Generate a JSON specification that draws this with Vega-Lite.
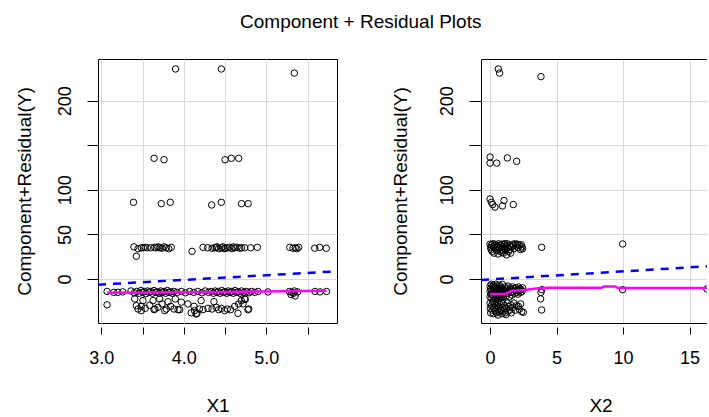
{
  "$schema": "https://vega.github.io/schema/vega-lite/v6.json",
  "background": "white",
  "padding": {"left": 14, "top": 12, "right": 0, "bottom": 0},
  "title": {"text": "Component + Residual Plots", "fontSize": 19, "fontWeight": "normal", "font": "Liberation Sans", "color": "black", "offset": 27, "anchor": "middle"},
  "spacing": 144,
  "bounds": "flush",
  "datasets": {
    "p1": [
      {"x": 3.90, "y": 235.6}, {"x": 4.455, "y": 235.6}, {"x": 5.34, "y": 231},
      {"x": 3.64, "y": 135.4}, {"x": 3.76, "y": 133.8}, {"x": 4.50, "y": 133.8}, {"x": 4.576, "y": 135.4}, {"x": 4.665, "y": 135.4},
      {"x": 3.39, "y": 86}, {"x": 3.727, "y": 84.5}, {"x": 3.836, "y": 86}, {"x": 4.338, "y": 83}, {"x": 4.455, "y": 86}, {"x": 4.70, "y": 84.5}, {"x": 4.78, "y": 84.5},
      {"x": 3.396, "y": 36}, {"x": 3.445, "y": 34}, {"x": 3.485, "y": 35}, {"x": 3.533, "y": 35.5}, {"x": 3.558, "y": 35}, {"x": 3.647, "y": 35.5}, {"x": 3.667, "y": 35}, {"x": 3.687, "y": 36}, {"x": 3.708, "y": 35}, {"x": 3.736, "y": 34.5}, {"x": 3.788, "y": 35}, {"x": 3.817, "y": 34}, {"x": 3.848, "y": 35.5}, {"x": 3.425, "y": 25.5}, {"x": 4.10, "y": 31}, {"x": 4.233, "y": 35.5}, {"x": 4.342, "y": 34.5}, {"x": 4.375, "y": 35}, {"x": 4.394, "y": 35.5}, {"x": 4.423, "y": 34}, {"x": 4.455, "y": 35}, {"x": 4.475, "y": 36}, {"x": 4.503, "y": 34.5}, {"x": 4.527, "y": 35}, {"x": 4.556, "y": 35.5}, {"x": 4.584, "y": 34}, {"x": 4.617, "y": 35}, {"x": 4.645, "y": 35.5}, {"x": 4.678, "y": 34.5}, {"x": 4.738, "y": 35}, {"x": 4.811, "y": 35}, {"x": 4.891, "y": 35.5}, {"x": 5.284, "y": 35.5}, {"x": 5.324, "y": 34.5}, {"x": 5.352, "y": 35}, {"x": 5.393, "y": 35.5}, {"x": 5.587, "y": 34.5}, {"x": 5.647, "y": 35.5}, {"x": 5.727, "y": 34.5},
      {"x": 3.51, "y": 35}, {"x": 3.60, "y": 35}, {"x": 3.76, "y": 36}, {"x": 4.29, "y": 35}, {"x": 4.40, "y": 36}, {"x": 4.49, "y": 34}, {"x": 4.60, "y": 36}, {"x": 4.70, "y": 35}, {"x": 5.37, "y": 34},
      {"x": 3.07, "y": -14}, {"x": 3.15, "y": -15}, {"x": 3.20, "y": -15}, {"x": 3.26, "y": -14.5}, {"x": 3.36, "y": -13.5}, {"x": 3.40, "y": -15.5}, {"x": 3.43, "y": -14}, {"x": 3.46, "y": -16}, {"x": 3.48, "y": -13}, {"x": 3.50, "y": -15}, {"x": 3.52, "y": -14}, {"x": 3.54, "y": -16.5}, {"x": 3.56, "y": -13.5}, {"x": 3.58, "y": -15}, {"x": 3.60, "y": -14}, {"x": 3.62, "y": -16}, {"x": 3.64, "y": -13}, {"x": 3.66, "y": -15}, {"x": 3.68, "y": -14.5}, {"x": 3.70, "y": -16}, {"x": 3.72, "y": -13.5}, {"x": 3.74, "y": -15}, {"x": 3.76, "y": -14}, {"x": 3.78, "y": -16}, {"x": 3.80, "y": -13}, {"x": 3.82, "y": -15}, {"x": 3.84, "y": -14.5}, {"x": 3.86, "y": -16}, {"x": 3.88, "y": -14}, {"x": 3.92, "y": -15}, {"x": 3.97, "y": -14}, {"x": 4.02, "y": -15.5}, {"x": 4.07, "y": -14}, {"x": 4.12, "y": -15}, {"x": 4.17, "y": -14}, {"x": 4.22, "y": -15.5}, {"x": 4.26, "y": -13.5}, {"x": 4.30, "y": -15}, {"x": 4.33, "y": -14}, {"x": 4.36, "y": -16}, {"x": 4.38, "y": -13.5}, {"x": 4.40, "y": -15}, {"x": 4.42, "y": -14}, {"x": 4.44, "y": -16}, {"x": 4.46, "y": -13}, {"x": 4.48, "y": -15}, {"x": 4.50, "y": -14.5}, {"x": 4.52, "y": -16}, {"x": 4.54, "y": -13.5}, {"x": 4.56, "y": -15}, {"x": 4.58, "y": -14}, {"x": 4.60, "y": -16}, {"x": 4.62, "y": -13}, {"x": 4.64, "y": -15}, {"x": 4.66, "y": -14.5}, {"x": 4.68, "y": -16}, {"x": 4.70, "y": -13.5}, {"x": 4.73, "y": -15}, {"x": 4.76, "y": -14}, {"x": 4.79, "y": -15.5}, {"x": 4.82, "y": -14}, {"x": 4.86, "y": -15}, {"x": 4.90, "y": -14}, {"x": 5.02, "y": -14.5}, {"x": 5.28, "y": -14}, {"x": 5.31, "y": -15}, {"x": 5.34, "y": -13.5}, {"x": 5.38, "y": -14.5}, {"x": 5.59, "y": -14}, {"x": 5.65, "y": -14.5}, {"x": 5.73, "y": -14},
      {"x": 5.30, "y": -17.5}, {"x": 5.35, "y": -19}, {"x": 5.33, "y": -16},
      {"x": 3.07, "y": -29},
      {"x": 3.405, "y": -22.4}, {"x": 3.445, "y": -33.7}, {"x": 3.485, "y": -30.7}, {"x": 3.505, "y": -24.3}, {"x": 3.533, "y": -33}, {"x": 3.587, "y": -29.5}, {"x": 3.627, "y": -24.3}, {"x": 3.639, "y": -34.4}, {"x": 3.687, "y": -31.8}, {"x": 3.708, "y": -22.4}, {"x": 3.736, "y": -28}, {"x": 3.788, "y": -33.7}, {"x": 3.808, "y": -25.5}, {"x": 3.841, "y": -30.7}, {"x": 3.881, "y": -33.7}, {"x": 3.897, "y": -22.4}, {"x": 3.93, "y": -34.4}, {"x": 3.97, "y": -26},
      {"x": 3.425, "y": -30}, {"x": 3.485, "y": -35.5}, {"x": 3.65, "y": -33.7}, {"x": 3.77, "y": -35.5}, {"x": 3.95, "y": -34.5},
      {"x": 4.05, "y": -28}, {"x": 4.124, "y": -30.7}, {"x": 4.13, "y": -35.5}, {"x": 4.15, "y": -39.3}, {"x": 4.19, "y": -33.7}, {"x": 4.21, "y": -24.3}, {"x": 4.233, "y": -34.4}, {"x": 4.293, "y": -33}, {"x": 4.342, "y": -33.7}, {"x": 4.366, "y": -25.5}, {"x": 4.394, "y": -31.8}, {"x": 4.423, "y": -34.4}, {"x": 4.455, "y": -33}, {"x": 4.495, "y": -35.5}, {"x": 4.527, "y": -33.7}, {"x": 4.568, "y": -34.4}, {"x": 4.617, "y": -30.7}, {"x": 4.665, "y": -28}, {"x": 4.697, "y": -24.3}, {"x": 4.738, "y": -22.4}, {"x": 4.787, "y": -33.7},
      {"x": 4.09, "y": -38}, {"x": 4.16, "y": -38.6}, {"x": 4.657, "y": -38.6}, {"x": 4.778, "y": -34.5}, {"x": 4.717, "y": -28}, {"x": 4.745, "y": -23}
    ],
    "l1": [{"x": 2.96, "y": -6.4}, {"x": 5.857, "y": 8.6}],
    "s1": [{"x": 3.07, "y": -15.5}, {"x": 3.5, "y": -15.2}, {"x": 4.0, "y": -14.8}, {"x": 4.5, "y": -14.5}, {"x": 5.0, "y": -14.0}, {"x": 5.4, "y": -13.6}, {"x": 5.73, "y": -13.1}],
    "p2": [
      {"x": 0.62, "y": 235.6}, {"x": 0.72, "y": 231}, {"x": 3.83, "y": 227},
      {"x": 0.0, "y": 136.8}, {"x": 0.0, "y": 130}, {"x": 0.5, "y": 130}, {"x": 1.3, "y": 135.8}, {"x": 2.0, "y": 132},
      {"x": 0.0, "y": 89.7}, {"x": 0.1, "y": 86}, {"x": 0.2, "y": 83.5}, {"x": 0.37, "y": 80.6}, {"x": 1.05, "y": 88}, {"x": 0.93, "y": 82}, {"x": 1.75, "y": 83.5},
      {"x": 0.0, "y": 39}, {"x": 0.05, "y": 35}, {"x": 0.1, "y": 38}, {"x": 0.15, "y": 31}, {"x": 0.2, "y": 39.5}, {"x": 0.25, "y": 36}, {"x": 0.3, "y": 29}, {"x": 0.35, "y": 39}, {"x": 0.4, "y": 34}, {"x": 0.45, "y": 38.5}, {"x": 0.5, "y": 32}, {"x": 0.55, "y": 37}, {"x": 0.6, "y": 28}, {"x": 0.65, "y": 39.5}, {"x": 0.7, "y": 35}, {"x": 0.75, "y": 31}, {"x": 0.8, "y": 38}, {"x": 0.85, "y": 33}, {"x": 0.9, "y": 39}, {"x": 0.95, "y": 36}, {"x": 1.0, "y": 29}, {"x": 1.05, "y": 39}, {"x": 1.1, "y": 34}, {"x": 1.15, "y": 32}, {"x": 1.2, "y": 37}, {"x": 1.25, "y": 27}, {"x": 1.3, "y": 39.5}, {"x": 1.35, "y": 35}, {"x": 1.4, "y": 31}, {"x": 1.45, "y": 38}, {"x": 1.5, "y": 33}, {"x": 1.6, "y": 36}, {"x": 1.7, "y": 39}, {"x": 1.8, "y": 34}, {"x": 1.9, "y": 39.5}, {"x": 2.0, "y": 37}, {"x": 2.1, "y": 35}, {"x": 2.2, "y": 38}, {"x": 2.3, "y": 33}, {"x": 2.4, "y": 36}, {"x": 2.45, "y": 34}, {"x": 0.08, "y": 33}, {"x": 0.32, "y": 37}, {"x": 0.62, "y": 36}, {"x": 0.88, "y": 30}, {"x": 1.12, "y": 39.5}, {"x": 1.55, "y": 29}, {"x": 1.75, "y": 37}, {"x": 2.05, "y": 39}, {"x": 2.35, "y": 38.5},
      {"x": 3.88, "y": 35.5}, {"x": 9.97, "y": 39.3},
      {"x": 0.0, "y": -8}, {"x": 0.0, "y": -14}, {"x": 0.0, "y": -20}, {"x": 0.05, "y": -11}, {"x": 0.08, "y": -17}, {"x": 0.1, "y": -6}, {"x": 0.12, "y": -22}, {"x": 0.15, "y": -13}, {"x": 0.18, "y": -9}, {"x": 0.2, "y": -18}, {"x": 0.22, "y": -15}, {"x": 0.25, "y": -7}, {"x": 0.28, "y": -20}, {"x": 0.3, "y": -12}, {"x": 0.33, "y": -16}, {"x": 0.35, "y": -9}, {"x": 0.38, "y": -21}, {"x": 0.4, "y": -14}, {"x": 0.43, "y": -6}, {"x": 0.45, "y": -18}, {"x": 0.48, "y": -11}, {"x": 0.5, "y": -15}, {"x": 0.53, "y": -20}, {"x": 0.55, "y": -8}, {"x": 0.58, "y": -13}, {"x": 0.6, "y": -17}, {"x": 0.63, "y": -10}, {"x": 0.65, "y": -22}, {"x": 0.68, "y": -15}, {"x": 0.7, "y": -7}, {"x": 0.73, "y": -19}, {"x": 0.75, "y": -12}, {"x": 0.78, "y": -16}, {"x": 0.8, "y": -9}, {"x": 0.83, "y": -21}, {"x": 0.85, "y": -14}, {"x": 0.88, "y": -11}, {"x": 0.9, "y": -18}, {"x": 0.93, "y": -6}, {"x": 0.95, "y": -15}, {"x": 0.98, "y": -20}, {"x": 1.0, "y": -12}, {"x": 1.05, "y": -17}, {"x": 1.1, "y": -9}, {"x": 1.15, "y": -14}, {"x": 1.2, "y": -19}, {"x": 1.25, "y": -11}, {"x": 1.3, "y": -16}, {"x": 1.35, "y": -8}, {"x": 1.4, "y": -13}, {"x": 1.45, "y": -20}, {"x": 1.5, "y": -10}, {"x": 1.55, "y": -15}, {"x": 1.6, "y": -12}, {"x": 1.65, "y": -18}, {"x": 1.7, "y": -9}, {"x": 1.75, "y": -14}, {"x": 1.8, "y": -11}, {"x": 1.85, "y": -16}, {"x": 1.9, "y": -13}, {"x": 1.95, "y": -10}, {"x": 2.0, "y": -15}, {"x": 2.05, "y": -12}, {"x": 2.1, "y": -17}, {"x": 2.15, "y": -9}, {"x": 2.2, "y": -13}, {"x": 2.25, "y": -11}, {"x": 2.3, "y": -15}, {"x": 2.35, "y": -12}, {"x": 2.4, "y": -14}, {"x": 2.45, "y": -10},
      {"x": 3.83, "y": -15}, {"x": 3.8, "y": -22.4}, {"x": 3.9, "y": -12}, {"x": 9.97, "y": -12}, {"x": 16.3, "y": -11.2},
      {"x": 0.0, "y": -27}, {"x": 0.02, "y": -33}, {"x": 0.05, "y": -38}, {"x": 0.1, "y": -30}, {"x": 0.15, "y": -35}, {"x": 0.2, "y": -26}, {"x": 0.25, "y": -39}, {"x": 0.3, "y": -32}, {"x": 0.35, "y": -28}, {"x": 0.4, "y": -36}, {"x": 0.45, "y": -30}, {"x": 0.5, "y": -38}, {"x": 0.55, "y": -27}, {"x": 0.6, "y": -34}, {"x": 0.65, "y": -31}, {"x": 0.7, "y": -37}, {"x": 0.75, "y": -29}, {"x": 0.8, "y": -35}, {"x": 0.85, "y": -26}, {"x": 0.9, "y": -39}, {"x": 0.95, "y": -32}, {"x": 1.0, "y": -28}, {"x": 1.05, "y": -36}, {"x": 1.1, "y": -30}, {"x": 1.15, "y": -38}, {"x": 1.2, "y": -33}, {"x": 1.3, "y": -27}, {"x": 1.35, "y": -36}, {"x": 1.4, "y": -31}, {"x": 1.5, "y": -35}, {"x": 1.55, "y": -29}, {"x": 1.6, "y": -38}, {"x": 1.7, "y": -32}, {"x": 1.8, "y": -27}, {"x": 1.9, "y": -35}, {"x": 2.0, "y": -30}, {"x": 2.13, "y": -30.7}, {"x": 2.2, "y": -34}, {"x": 2.38, "y": -36.6}, {"x": 2.3, "y": -28}, {"x": 2.5, "y": -37.4}, {"x": 0.6, "y": -40.5}, {"x": 1.2, "y": -40}, {"x": 3.88, "y": -34.8}
    ],
    "l2": [{"x": -0.68, "y": -1.1}, {"x": 16.31, "y": 14.2}],
    "s2": [{"x": 0, "y": -16.8}, {"x": 1.2, "y": -16.5}, {"x": 1.6, "y": -13.5}, {"x": 2.6, "y": -12.5}, {"x": 3.6, "y": -10.5}, {"x": 4.4, "y": -9.8}, {"x": 8.4, "y": -9.8}, {"x": 8.55, "y": -8.4}, {"x": 9.4, "y": -8.4}, {"x": 9.6, "y": -10}, {"x": 16.3, "y": -10}]
  },
  "hconcat": [
    {
      "width": 239,
      "height": 264,
      "view": {"stroke": "black", "strokeWidth": 1},
      "encoding": {
        "x": {"field": "x", "type": "quantitative", "scale": {"domain": [2.96, 5.857], "nice": false, "zero": false},
          "axis": {"title": "X1", "values": [3, 3.5, 4, 4.5, 5, 5.5], "labelExpr": "datum.value % 1 == 0 ? format(datum.value, '.1f') : ''", "domain": false, "offset": 4, "tickSize": 7, "labelPadding": 15, "titlePadding": 29, "grid": true, "labelFlush": false}},
        "y": {"field": "y", "type": "quantitative", "scale": {"domain": [-49.4, 246.8], "nice": false, "zero": false},
          "axis": {"title": "Component+Residual(Y)", "values": [0, 50, 100, 150, 200], "labelExpr": "datum.value == 150 ? '' : datum.label", "labelAngle": 270, "labelAlign": "center", "labelBaseline": "bottom", "domain": false, "tickSize": 11, "labelPadding": 13, "titlePadding": 22, "grid": true}}
      },
      "layer": [
        {"data": {"name": "p1"}, "mark": {"type": "point", "shape": "circle", "filled": false, "color": "black", "size": 42, "strokeWidth": 1, "opacity": 1}},
        {"data": {"name": "l1"}, "mark": {"type": "line", "color": "blue", "strokeDash": [8, 7], "strokeWidth": 2.5, "clip": true}},
        {"data": {"name": "s1"}, "mark": {"type": "line", "color": "magenta", "strokeWidth": 2.5}}
      ]
    },
    {
      "width": 226,
      "height": 264,
      "view": {"stroke": null},
      "resolve": {"axis": {"x": "independent"}},
      "layer": [
        {"data": {"name": "p2"}, "mark": {"type": "point", "shape": "circle", "filled": false, "color": "black", "size": 42, "strokeWidth": 1, "opacity": 1, "clip": true},
          "encoding": {
            "x": {"field": "x", "type": "quantitative", "scale": {"domain": [-0.68, 16.31], "nice": false, "zero": false},
              "axis": {"title": "X2", "titleX": 119.5, "values": [0, 5, 10, 15], "domain": false, "offset": 4, "tickSize": 7, "labelPadding": 15, "titlePadding": 29, "grid": true, "labelFlush": false, "orient": "bottom"}},
            "y": {"field": "y", "type": "quantitative", "scale": {"domain": [-49.4, 246.8], "nice": false, "zero": false},
              "axis": {"title": "Component+Residual(Y)", "values": [0, 50, 100, 150, 200], "labelExpr": "datum.value == 150 ? '' : datum.label", "labelAngle": 270, "labelAlign": "center", "labelBaseline": "bottom", "domain": true, "tickSize": 12, "labelPadding": 13, "titlePadding": 28, "grid": true}}
          }},
        {"data": {"name": "l2"}, "mark": {"type": "line", "color": "blue", "strokeDash": [8, 7], "strokeWidth": 2.5, "clip": true},
          "encoding": {
            "x": {"field": "x", "type": "quantitative", "scale": {"domain": [-0.68, 16.31], "nice": false, "zero": false},
              "axis": {"orient": "top", "title": null, "domain": true, "ticks": false, "labels": false, "grid": false}},
            "y": {"field": "y", "type": "quantitative", "scale": {"domain": [-49.4, 246.8], "nice": false, "zero": false},
              "axis": {"title": "Component+Residual(Y)", "values": [0, 50, 100, 150, 200], "labelExpr": "datum.value == 150 ? '' : datum.label", "labelAngle": 270, "labelAlign": "center", "labelBaseline": "bottom", "domain": true, "tickSize": 12, "labelPadding": 13, "titlePadding": 28, "grid": true}}
          }},
        {"data": {"name": "s2"}, "mark": {"type": "line", "color": "magenta", "strokeWidth": 2.5, "clip": true},
          "encoding": {
            "x": {"field": "x", "type": "quantitative", "scale": {"domain": [-0.68, 16.31], "nice": false, "zero": false},
              "axis": {"orient": "bottom", "title": null, "domain": true, "ticks": false, "labels": false, "grid": false}},
            "y": {"field": "y", "type": "quantitative", "scale": {"domain": [-49.4, 246.8], "nice": false, "zero": false},
              "axis": {"title": "Component+Residual(Y)", "values": [0, 50, 100, 150, 200], "labelExpr": "datum.value == 150 ? '' : datum.label", "labelAngle": 270, "labelAlign": "center", "labelBaseline": "bottom", "domain": true, "tickSize": 12, "labelPadding": 13, "titlePadding": 28, "grid": true}}
          }}
      ]
    }
  ],
  "config": {
    "font": "Liberation Sans",
    "axis": {"labelFont": "Liberation Sans", "titleFont": "Liberation Sans", "labelFontSize": 18, "titleFontSize": 19, "labelColor": "black", "titleColor": "black", "titleFontWeight": "normal", "gridColor": "#d9d9d9", "gridWidth": 1, "tickColor": "black", "domainColor": "black", "tickWidth": 1, "domainWidth": 1}
  }
}
